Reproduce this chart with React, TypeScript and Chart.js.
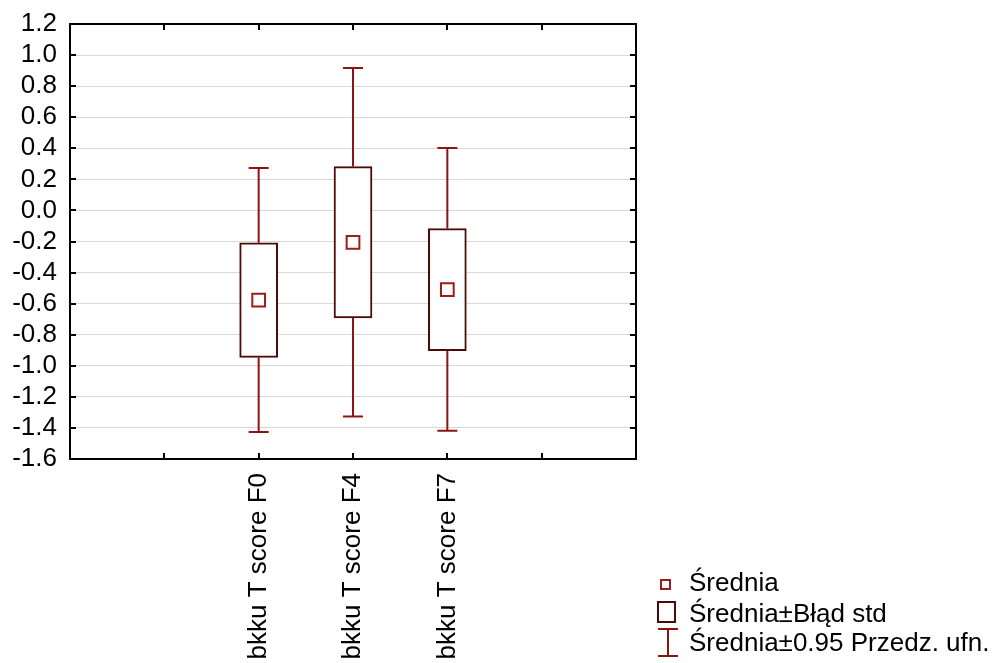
import React, { useEffect, useRef } from "react";
import { Chart, registerables } from "chart.js";

Chart.register(...registerables);

// Categories (variables) and their summary statistics
const categories = ["bkku T score F0", "bkku T score F4", "bkku T score F7"];
const categoryPositions = [2, 3, 4];
const means = [-0.577, -0.205, -0.51];
const seLow = [-0.946, -0.692, -0.903];
const seHigh = [-0.208, 0.282, -0.117];
const ciLow = [-1.426, -1.327, -1.418];
const ciHigh = [0.273, 0.917, 0.402];

const yMin = -1.6;
const yMax = 1.2;
const yStep = 0.2;
const xMin = 0;
const xMax = 6;

const legendLabels = ["Średnia", "Średnia±Błąd std", "Średnia±0.95 Przedz. ufn."];

const FONT = "Liberation Sans, Arial, sans-serif";
const WHISKER = "#8c1414";
const BOX = "#4d0a0a";
const MEAN = "#9b1c1c";

const statsPlugin = {
  id: "statsPlugin",
  beforeDatasetsDraw(chart: any) {
    const { ctx, scales } = chart;
    const xs = scales.x;
    const ys = scales.y;
    ctx.save();
    ctx.strokeStyle = WHISKER;
    ctx.lineWidth = 2;
    categoryPositions.forEach((pos, i) => {
      const px = xs.getPixelForValue(pos);
      const top = ys.getPixelForValue(ciHigh[i]);
      const bot = ys.getPixelForValue(ciLow[i]);
      const bt = ys.getPixelForValue(seHigh[i]);
      const bb = ys.getPixelForValue(seLow[i]);
      ctx.beginPath();
      ctx.moveTo(px, top);
      ctx.lineTo(px, bt);
      ctx.moveTo(px, bb);
      ctx.lineTo(px, bot);
      ctx.moveTo(px - 10, top);
      ctx.lineTo(px + 10, top);
      ctx.moveTo(px - 10, bot);
      ctx.lineTo(px + 10, bot);
      ctx.stroke();
    });
    ctx.restore();
  },
  afterDraw(chart: any) {
    const { ctx, chartArea, scales } = chart;
    const { left, right, top, bottom } = chartArea;
    ctx.save();
    // inward tick marks
    ctx.strokeStyle = "#000";
    ctx.lineWidth = 2;
    ctx.beginPath();
    scales.y.ticks.forEach((t: any) => {
      const py = Math.round(scales.y.getPixelForValue(t.value));
      if (py <= top + 1 || py >= bottom - 1) return;
      ctx.moveTo(left, py);
      ctx.lineTo(left + 6, py);
      ctx.moveTo(right, py);
      ctx.lineTo(right - 6, py);
    });
    scales.x.ticks.forEach((t: any) => {
      const px = Math.round(scales.x.getPixelForValue(t.value));
      if (px <= left + 1 || px >= right - 1) return;
      ctx.moveTo(px, bottom);
      ctx.lineTo(px, bottom - 6);
      ctx.moveTo(px, top);
      ctx.lineTo(px, top + 6);
    });
    ctx.stroke();
    // frame
    ctx.strokeRect(left, top, right - left, bottom - top);

    // legend
    ctx.lineWidth = 2;
    ctx.strokeStyle = MEAN;
    ctx.fillStyle = "#fff";
    ctx.beginPath();
    ctx.rect(661, 580, 9, 9);
    ctx.fill();
    ctx.stroke();

    ctx.strokeStyle = BOX;
    ctx.beginPath();
    ctx.rect(658, 602, 17, 20);
    ctx.stroke();

    ctx.strokeStyle = WHISKER;
    ctx.beginPath();
    ctx.moveTo(668, 629);
    ctx.lineTo(668, 656);
    ctx.moveTo(658, 629);
    ctx.lineTo(678, 629);
    ctx.moveTo(658, 656);
    ctx.lineTo(678, 656);
    ctx.stroke();

    ctx.fillStyle = "#000";
    ctx.font = `26px ${FONT}`;
    ctx.textAlign = "left";
    ctx.textBaseline = "alphabetic";
    const baselines = [591, 622, 651];
    legendLabels.forEach((l, i) => ctx.fillText(l, 689, baselines[i]));
    ctx.restore();
  },
};

export default function App() {
  const ref = useRef<HTMLCanvasElement>(null);

  useEffect(() => {
    const canvas = ref.current;
    if (!canvas) return;
    const chart = new Chart(canvas, {
      data: {
        datasets: [
          {
            type: "scatter",
            label: "Średnia",
            data: categoryPositions.map((x, i) => ({ x, y: means[i] })),
            pointStyle: "rect",
            pointRadius: 9,
            pointBorderWidth: 2,
            pointBorderColor: MEAN,
            pointBackgroundColor: "#fff",
            order: 0,
          },
          {
            type: "bar",
            label: "Średnia±Błąd std",
            data: categoryPositions.map((x, i) => ({ x, y: [seLow[i], seHigh[i]] })) as any,
            barThickness: 38,
            borderWidth: 2,
            borderSkipped: false,
            borderColor: BOX,
            backgroundColor: "#fff",
            order: 1,
          },
        ],
      } as any,
      options: {
        responsive: false,
        animation: false,
        events: [],
        layout: { padding: { top: 24, right: 358, left: 0, bottom: 0 } },
        plugins: { legend: { display: false }, tooltip: { enabled: false } },
        scales: {
          x: {
            type: "linear",
            min: xMin,
            max: xMax,
            offset: false,
            grid: { display: false, drawTicks: false },
            border: { display: false },
            afterFit: (s: any) => {
              s.height = 204;
              s.paddingLeft = 0;
              s.paddingRight = 0;
            },
            ticks: {
              stepSize: 1,
              autoSkip: false,
              minRotation: 90,
              maxRotation: 90,
              padding: 14,
              color: "#000",
              font: { family: FONT, size: 26 },
              callback: (v: any) => {
                const idx = categoryPositions.indexOf(Number(v));
                return idx >= 0 ? categories[idx] : "";
              },
            },
          },
          y: {
            type: "linear",
            min: yMin,
            max: yMax,
            grid: { color: "#d9d9d9", lineWidth: 1, drawTicks: false },
            border: { display: false },
            afterFit: (s: any) => {
              s.width = 70;
              s.paddingTop = 0;
              s.paddingBottom = 0;
            },
            ticks: {
              stepSize: yStep,
              autoSkip: false,
              padding: 13,
              color: "#000",
              font: { family: FONT, size: 26 },
              callback: (v: any) => {
                const n = Number(v);
                return Math.abs(n) < 1e-9 ? "0.0" : n.toFixed(1);
              },
            },
          },
        },
      },
      plugins: [statsPlugin],
    } as any);
    return () => chart.destroy();
  }, []);

  return (
    <div style={{ position: "fixed", left: 0, top: 0, width: 994, height: 663, background: "#fff" }}>
      <canvas ref={ref} width={994} height={663} style={{ display: "block" }} />
    </div>
  );
}
